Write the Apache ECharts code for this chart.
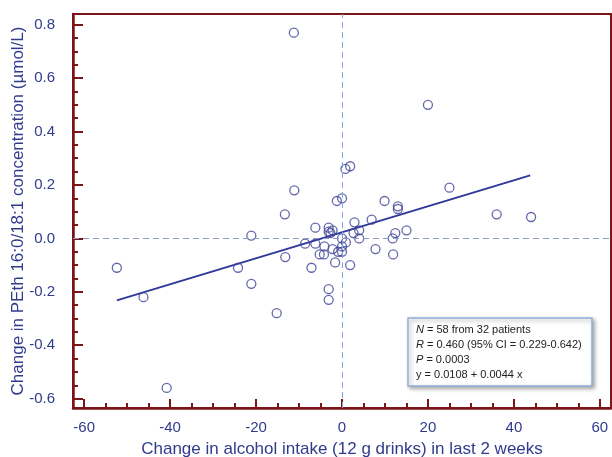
<!DOCTYPE html>
<html>
<head>
<meta charset="utf-8">
<script src="https://cdn.jsdelivr.net/npm/echarts@6/dist/echarts.min.js"></script>
<style>
  html, body { margin: 0; padding: 0; background: #fff; }
  #chart { width: 612px; height: 457px; }
</style>
</head>
<body>
<div id="chart"></div>
<script>
// change in drinks (x) vs change in PEth (y), one entry per sample pair
const drinkChange = [-52.4, -46.2, -40.8, -24.2, -21.1, -21.1, -15.2, -13.3, -13.2, -11.2,
  -11.1, -8.6, -7.1, -6.2, -6.2, -5.2, -4.2, -4.1, -3.1, -2.2,
  -2.7, -3.1, -2.2, -1.6, -3.1, -3.1, -1.2, 0, -0.9, 0,
  0, 0, 0.9, 0.8, 1.9, 1.9, 2.9, 2.7, 4.0, 4.0,
  6.9, 7.8, 9.9, 11.8, 12.4, 11.9, 13.0, 13.0, 15.0, 20.0,
  25.0, 36.0, 44.0]
const pethChange = [-0.11, -0.22, -0.56, -0.11, 0.01, -0.17, -0.28, 0.09, -0.07, 0.77,
  0.18, -0.02, -0.11, 0.04, -0.02, -0.06, -0.06, -0.03, 0.04, 0.03,
  0.02, 0.025, -0.04, -0.09, -0.19, -0.23, 0.14, 0.15, -0.05, -0.05,
  0.0, -0.03, -0.015, 0.26, 0.27, -0.10, 0.06, 0.02, 0.03, 0.0,
  0.07, -0.04, 0.14, 0.0, 0.02, -0.06, 0.12, 0.11, 0.03, 0.50,
  0.19, 0.09, 0.08]

// regression line end points
const fitX = [-52.4, 43.8]
const fitY = [-0.232, 0.236]

const xTicks = [-60, -40, -20, 0, 20, 40, 60]
const yTicks = [-0.6, -0.4, -0.2, 0.0, 0.2, 0.4, 0.6, 0.8]
const xMinor = [-55, -50, -45, -35, -30, -25, -15, -10, -5, 5, 10, 15, 25, 30, 35, 45, 50, 55]
const yMinor = [-0.55, -0.5, -0.45, -0.35, -0.3, -0.25, -0.15, -0.1, -0.05,
  0.05, 0.1, 0.15, 0.25, 0.3, 0.35, 0.45, 0.5, 0.55, 0.65, 0.7, 0.75]

const statLines = [
  '{i|N} = 58 from 32 patients',
  '{i|R} = 0.460 (95% CI = 0.229-0.642)',
  '{i|P} = 0.0003',
  'y = 0.0108 + 0.0044 x'
]

const axisRed = '#7b1518'
const navy = '#313b8c'
const fontFam = 'Liberation Sans, Arial, sans-serif'

const chart = echarts.init(document.getElementById('chart'))

chart.setOption({
  animation: false,
  textStyle: { fontFamily: fontFam },
  grid: {
    left: 73,
    top: 14,
    right: 1,
    bottom: 49,
    outerBoundsMode: 'none',
    containLabel: false,
    show: true,
    borderColor: axisRed,
    borderWidth: 2
  },
  xAxis: [
    {
      type: 'value',
      min: -62.6,
      max: 62.6,
      name: 'Change in alcohol intake (12 g drinks) in last 2 weeks',
      nameLocation: 'middle',
      nameGap: 33,
      nameMoveOverlap: false,
      nameTextStyle: { color: navy, fontSize: 17 },
      axisLine: { show: true, onZero: false, lineStyle: { color: axisRed, width: 2.5 } },
      axisTick: { show: true, inside: true, length: 9, customValues: xTicks, lineStyle: { color: axisRed, width: 2 } },
      axisLabel: { customValues: xTicks, color: navy, fontSize: 15, margin: 12 },
      splitLine: { show: false }
    },
    {
      type: 'value',
      min: -62.6,
      max: 62.6,
      position: 'bottom',
      axisLine: { show: false, onZero: false },
      axisTick: { show: true, inside: true, length: 5, customValues: xMinor, lineStyle: { color: axisRed, width: 2 } },
      axisLabel: { show: false },
      splitLine: { show: false }
    }
  ],
  yAxis: [
    {
      type: 'value',
      min: -0.635,
      max: 0.84,
      name: 'Change in PEth 16:0/18:1 concentration (µmol/L)',
      nameLocation: 'middle',
      nameGap: 46,
      nameMoveOverlap: false,
      nameTextStyle: { color: navy, fontSize: 17 },
      axisLine: { show: true, onZero: false, lineStyle: { color: axisRed, width: 2.5 } },
      axisTick: { show: true, inside: true, length: 10, customValues: yTicks, lineStyle: { color: axisRed, width: 2 } },
      axisLabel: {
        customValues: yTicks,
        color: navy,
        fontSize: 15,
        margin: 18,
        formatter: v => v.toFixed(1)
      },
      splitLine: { show: false }
    },
    {
      type: 'value',
      min: -0.635,
      max: 0.84,
      position: 'left',
      axisLine: { show: false, onZero: false },
      axisTick: { show: true, inside: true, length: 5, customValues: yMinor, lineStyle: { color: axisRed, width: 2 } },
      axisLabel: { show: false },
      splitLine: { show: false }
    }
  ],
  series: [
    {
      name: 'fit',
      type: 'line',
      data: fitX.map((x, i) => [x, fitY[i]]),
      showSymbol: false,
      lineStyle: { color: '#2e3899', width: 2 },
      silent: true,
      z: 3,
      markLine: {
        silent: true,
        symbol: 'none',
        label: { show: false },
        data: [
          { yAxis: 0, lineStyle: { color: '#8d9cc6', type: [6, 4], width: 1 } },
          { xAxis: 0, lineStyle: { color: '#7ea6e2', type: [6, 4], width: 1 } }
        ]
      }
    },
    {
      name: 'patients',
      type: 'scatter',
      data: drinkChange.map((x, i) => [x, pethChange[i]]),
      symbol: 'circle',
      symbolSize: 9,
      itemStyle: {
        color: 'rgba(255,255,255,0)',
        borderColor: '#3d4296',
        borderWidth: 1.3
      },
      z: 4
    }
  ],
  graphic: [
    {
      type: 'rect',
      shape: { x: 408, y: 318, width: 184, height: 68 },
      style: {
        fill: '#fff',
        stroke: '#8fb0dc',
        lineWidth: 1.5,
        shadowBlur: 4,
        shadowOffsetX: 2,
        shadowOffsetY: 2,
        shadowColor: 'rgba(0,0,0,0.35)'
      },
      z: 10
    },
    {
      type: 'text',
      left: 416,
      top: 322,
      z: 11,
      style: {
        text: statLines.join('\n'),
        fontFamily: fontFam,
        fontSize: 11,
        lineHeight: 15,
        fill: '#222',
        rich: {
          i: { fontStyle: 'italic', fontSize: 11, fontFamily: fontFam, fill: '#222', lineHeight: 15 }
        }
      }
    }
  ]
})
</script>
</body>
</html>
